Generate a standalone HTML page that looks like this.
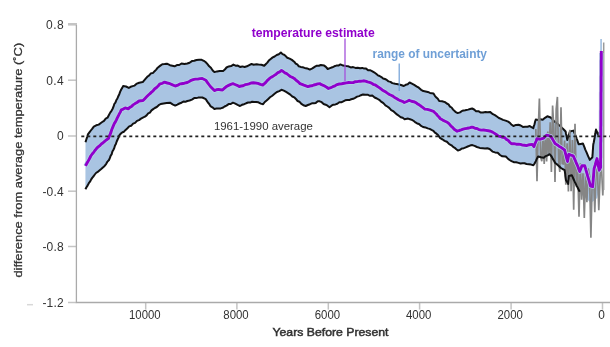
<!DOCTYPE html>
<html><head><meta charset="utf-8"><style>
html,body{margin:0;padding:0;background:#fff;width:610px;height:347px;overflow:hidden}
svg{display:block;will-change:transform}
text{font-family:"Liberation Sans",sans-serif}
</style></head><body>

<svg width="610" height="347" viewBox="0 0 610 347">
<g stroke="#c4c4c4" stroke-width="1.5" fill="none">
<path d="M68,24.3 H77" stroke-width="2.6"/>
<path d="M68,80.2 H76.3"/>
<path d="M68,136.0 H76.3"/>
<path d="M68,191.2 H76.3"/>
<path d="M68,246.5 H76.3"/>
<path d="M68,302.5 H76.3"/>
<path d="M145.7,302.5 V309.6"/>
<path d="M236.9,302.5 V309.6"/>
<path d="M328.3,302.5 V309.6"/>
<path d="M419.6,302.5 V309.6"/>
<path d="M511.1,302.5 V309.6"/>
<path d="M602.5,302.5 V309.6"/>
<path d="M76.4,25 V302.5 H610" stroke="#aaaaaa" stroke-width="1.3"/>
<path d="M27,304.7 H33" stroke="#d8d8d8"/>
</g>
<g font-family="Liberation Sans, sans-serif" font-size="12" fill="#333">
<text x="63.6" y="28.8" text-anchor="end" textLength="17.6" lengthAdjust="spacing">0.8</text>
<text x="63.6" y="84.5" text-anchor="end" textLength="17.4" lengthAdjust="spacing">0.4</text>
<text x="63.6" y="140.3" text-anchor="end" textLength="6.6" lengthAdjust="spacing">0</text>
<text x="63.6" y="195.5" text-anchor="end" textLength="21.2" lengthAdjust="spacing">-0.4</text>
<text x="63.6" y="250.8" text-anchor="end" textLength="21.2" lengthAdjust="spacing">-0.8</text>
<text x="63.6" y="306.8" text-anchor="end" textLength="21.2" lengthAdjust="spacing">-1.2</text>
<text x="144.8" y="319.4" text-anchor="middle" font-size="12.2" textLength="31.6" lengthAdjust="spacingAndGlyphs">10000</text>
<text x="236.0" y="319.4" text-anchor="middle" font-size="12.2" textLength="25.4" lengthAdjust="spacingAndGlyphs">8000</text>
<text x="327.4" y="319.4" text-anchor="middle" font-size="12.2" textLength="25.4" lengthAdjust="spacingAndGlyphs">6000</text>
<text x="418.7" y="319.4" text-anchor="middle" font-size="12.2" textLength="25.4" lengthAdjust="spacingAndGlyphs">4000</text>
<text x="510.2" y="319.4" text-anchor="middle" font-size="12.2" textLength="25.4" lengthAdjust="spacingAndGlyphs">2000</text>
<text x="601.6" y="319.4" text-anchor="middle" font-size="12.2" textLength="6.6" lengthAdjust="spacingAndGlyphs">0</text>
</g>
<path d="M85.5,142.3 L86.1,140.3 L86.7,138.4 L87.3,136.8 L87.9,134.4 L89.4,132.4 L90.8,130.5 L92.3,128.6 L93.8,126.6 L96.2,125.3 L98.7,124.6 L100.5,123.2 L102.2,122.0 L104.0,120.8 L105.7,118.6 L107.5,117.7 L108.8,115.2 L110.2,112.6 L111.5,110.8 L112.5,109.0 L113.5,106.7 L114.4,103.8 L115.4,102.7 L116.4,100.0 L117.4,98.5 L118.3,96.2 L119.3,94.2 L120.2,91.7 L121.2,89.5 L122.1,88.1 L123.1,86.1 L126.0,86.5 L128.8,87.9 L130.7,86.8 L132.7,86.1 L134.6,85.6 L136.9,83.6 L139.2,82.7 L142.7,82.1 L144.4,80.1 L146.1,78.1 L147.6,76.5 L149.2,75.4 L150.7,73.5 L153.1,72.9 L154.6,71.2 L156.2,69.6 L157.7,67.7 L160.0,65.9 L162.3,64.2 L164.6,64.1 L166.9,63.7 L170.0,65.2 L172.3,65.7 L174.6,66.3 L176.9,65.1 L179.2,65.0 L181.5,63.5 L184.4,64.0 L187.3,63.5 L189.6,62.7 L191.9,61.1 L194.2,60.8 L196.5,60.0 L199.1,59.7 L201.7,59.8 L203.8,60.8 L205.8,62.3 L207.5,64.1 L209.2,66.3 L210.9,67.8 L212.7,70.5 L214.4,72.1 L217.0,71.4 L219.6,71.0 L223.1,71.0 L224.8,69.6 L226.5,67.5 L228.8,66.4 L231.1,66.1 L233.4,64.6 L235.6,65.7 L237.8,65.6 L240.0,66.9 L242.3,66.4 L244.6,67.0 L246.9,66.3 L249.2,65.1 L251.5,64.0 L253.8,64.7 L256.2,64.3 L258.5,64.6 L261.4,64.7 L264.2,65.8 L265.7,64.2 L267.3,62.6 L268.8,60.6 L270.7,59.0 L272.7,57.4 L274.6,56.5 L276.7,55.0 L278.8,54.3 L280.9,52.5 L282.5,54.1 L284.1,54.7 L285.7,56.1 L287.3,57.7 L289.6,58.6 L291.9,59.9 L294.2,61.7 L295.7,63.6 L297.3,64.4 L298.8,66.3 L300.7,66.9 L302.7,67.3 L304.6,67.9 L307.2,68.4 L309.8,69.6 L312.4,68.4 L315.0,66.7 L316.9,65.7 L318.9,65.7 L320.8,65.0 L324.2,65.6 L325.9,66.9 L327.7,69.0 L330.0,68.1 L332.3,67.3 L334.3,66.3 L336.4,65.6 L338.4,65.6 L340.4,64.4 L343.2,65.6 L346.1,66.1 L348.4,66.3 L350.8,67.4 L353.1,67.1 L355.4,67.9 L357.7,67.8 L360.0,68.3 L362.3,67.9 L364.2,68.6 L366.1,68.6 L368.1,70.2 L370.0,70.2 L372.0,71.1 L374.1,72.3 L376.1,73.8 L377.9,75.3 L379.6,76.0 L381.4,77.1 L383.1,78.5 L384.9,79.0 L386.8,79.9 L388.6,81.4 L390.5,81.9 L392.3,83.1 L395.2,83.8 L398.1,84.2 L401.0,85.0 L403.8,86.0 L405.7,84.8 L407.7,84.2 L409.6,82.5 L411.9,83.6 L414.2,84.8 L416.5,86.3 L418.8,87.7 L421.1,89.8 L423.4,91.1 L425.6,91.4 L427.8,91.9 L430.0,92.9 L433.5,93.5 L434.9,95.8 L436.4,97.6 L437.8,98.8 L439.2,101.0 L442.1,101.2 L445.0,102.1 L446.8,103.5 L448.5,104.4 L450.0,106.6 L451.6,107.5 L453.1,109.6 L455.4,111.8 L457.7,113.1 L460.0,112.4 L462.3,110.8 L465.2,110.3 L468.1,109.6 L470.1,109.0 L472.1,108.5 L474.1,109.5 L476.1,111.3 L478.4,111.2 L480.8,112.6 L483.1,112.5 L485.4,112.0 L487.7,112.3 L490.0,111.9 L492.9,114.2 L494.9,115.1 L496.9,116.5 L498.9,118.0 L501.0,118.9 L503.0,119.9 L505.6,120.6 L508.2,121.7 L509.9,122.8 L511.7,124.8 L513.4,126.0 L516.0,124.9 L518.5,124.7 L520.7,125.5 L522.9,126.9 L525.2,126.7 L527.5,126.7 L529.8,126.0 L531.5,127.2 L533.3,128.2 L533.9,125.8 L534.5,124.3 L535.2,121.3 L535.8,119.5 L538.1,119.9 L540.4,119.3 L542.7,119.8 L545.0,117.8 L547.3,116.3 L550.7,117.5 L552.5,119.4 L554.2,121.5 L556.0,122.4 L557.8,123.9 L559.5,125.6 L561.3,127.1 L562.7,128.6 L564.2,130.0 L565.6,131.5 L566.0,133.7 L566.5,135.8 L566.9,137.9 L567.3,140.1 L567.9,137.9 L568.6,135.8 L569.2,133.7 L569.9,131.5 L573.4,130.6 L574.3,132.6 L575.1,134.6 L576.0,136.6 L576.6,138.5 L577.3,140.4 L578.0,142.4 L578.6,144.3 L580.8,143.9 L582.9,143.5 L583.7,145.4 L584.5,147.3 L585.2,149.3 L586.0,151.2 L587.0,153.4 L587.9,155.6 L588.8,157.7 L589.8,159.9 L592.4,157.3 L592.5,155.1 L592.7,153.0 L592.8,150.8 L593.0,148.6 L593.1,146.5 L593.3,144.3 L593.8,142.2 L594.2,140.0 L594.6,137.9 L594.9,135.8 L595.3,133.8 L595.6,131.7 L596.0,129.6 L597.2,132.3 L598.4,135.0 L599.8,132.0 L599.8,130.0 L599.8,128.0 L599.8,125.9 L599.8,123.9 L599.8,121.9 L599.9,119.9 L599.9,117.8 L599.9,115.8 L599.9,113.8 L599.9,111.8 L599.9,109.8 L599.9,107.7 L599.9,105.7 L599.9,103.7 L599.9,101.7 L599.9,99.7 L599.9,97.6 L600.0,95.6 L600.0,93.6 L600.0,91.6 L600.0,89.5 L600.0,87.5 L600.0,85.5 L600.0,83.5 L600.0,81.5 L600.0,79.4 L600.0,77.4 L600.0,75.4 L600.1,73.4 L600.1,71.3 L600.1,69.3 L600.1,67.3 L600.1,65.3 L600.1,63.3 L600.1,61.2 L600.1,59.2 L600.1,57.2 L600.1,55.2 L600.1,53.2 L600.1,51.1 L600.2,49.1 L600.2,47.1 L600.2,45.1 L600.2,43.0 L600.2,41.0 L600.2,39.0 L602.0,39.0 L601.5,170.0 L601.3,172.1 L601.1,174.3 L600.9,176.4 L600.6,178.6 L600.4,180.7 L600.2,182.9 L600.0,185.0 L599.5,187.2 L599.1,189.3 L598.6,191.5 L598.1,193.7 L597.7,195.8 L597.2,198.0 L595.2,199.7 L593.1,201.3 L591.1,203.0 L589.4,201.5 L587.7,200.0 L586.1,198.7 L584.6,197.3 L583.0,196.0 L581.4,193.9 L579.7,191.8 L578.7,189.7 L577.6,187.5 L576.6,185.6 L575.7,183.6 L574.7,181.7 L573.7,179.5 L572.8,177.4 L571.8,175.2 L568.9,176.0 L568.7,178.6 L568.4,181.3 L568.2,183.9 L567.1,182.1 L566.0,180.3 L565.7,178.3 L565.4,176.3 L565.2,174.2 L564.9,172.2 L564.6,170.2 L562.8,169.1 L561.0,168.0 L559.1,166.2 L557.1,164.4 L555.2,163.0 L554.0,160.7 L552.8,158.9 L551.6,156.5 L549.6,154.2 L547.7,155.4 L545.7,156.1 L543.8,157.7 L541.0,157.2 L538.1,156.5 L536.9,158.7 L535.8,161.1 L534.6,163.5 L533.4,165.2 L531.1,164.6 L528.8,164.2 L526.5,164.0 L524.5,163.3 L522.5,163.3 L520.5,163.5 L518.5,162.9 L516.2,162.3 L513.8,162.2 L511.5,161.1 L509.6,160.0 L507.7,158.4 L505.8,156.5 L502.3,156.3 L500.0,155.0 L497.7,152.8 L495.1,152.4 L492.5,151.6 L489.6,149.0 L487.3,148.2 L485.0,148.5 L482.7,148.2 L479.8,147.9 L476.9,147.0 L474.6,145.9 L472.3,145.1 L470.0,145.6 L467.7,146.5 L465.8,147.3 L463.8,148.2 L461.9,148.5 L459.9,149.9 L457.9,150.5 L456.3,149.3 L454.7,147.8 L453.1,146.9 L451.5,145.3 L449.2,144.1 L446.9,141.8 L444.6,140.9 L442.3,139.3 L440.0,137.8 L438.0,135.0 L436.5,133.7 L434.9,132.7 L433.4,130.8 L431.5,129.9 L429.6,128.9 L427.7,128.4 L425.4,127.4 L423.0,127.0 L420.7,125.6 L419.0,124.0 L417.2,123.5 L415.5,122.4 L413.8,121.0 L411.9,119.9 L410.0,119.2 L408.1,118.6 L404.6,119.2 L402.7,117.8 L400.7,117.2 L398.8,115.8 L396.9,114.4 L395.0,112.7 L393.1,111.1 L391.2,110.1 L389.2,107.8 L387.3,106.5 L385.4,105.4 L383.4,103.2 L381.5,101.9 L379.2,99.8 L376.9,98.5 L374.6,97.5 L372.3,95.6 L370.0,95.8 L367.6,94.7 L365.3,94.8 L363.0,94.4 L361.0,95.2 L359.1,96.1 L357.1,96.6 L355.1,97.8 L353.2,98.8 L351.2,99.3 L349.2,100.1 L347.2,100.1 L345.2,100.3 L343.3,101.3 L341.3,102.3 L339.3,102.3 L337.3,103.8 L335.4,104.4 L333.4,104.7 L331.5,105.7 L329.5,107.2 L327.5,105.7 L325.6,104.7 L323.6,104.0 L321.7,102.2 L319.7,101.3 L317.8,101.3 L315.8,102.9 L313.9,103.3 L311.9,103.3 L310.0,104.2 L307.9,105.0 L305.7,106.0 L303.4,105.3 L301.1,103.6 L299.4,101.7 L297.6,101.0 L295.9,98.9 L294.2,97.3 L292.3,96.5 L290.3,94.6 L288.4,93.3 L286.1,91.9 L283.8,90.6 L281.5,89.8 L279.2,91.1 L276.9,92.0 L274.6,93.8 L272.3,95.7 L270.0,97.3 L268.3,98.9 L266.6,100.5 L264.8,102.0 L263.1,104.2 L260.8,103.6 L258.4,102.3 L256.1,101.9 L254.1,102.1 L252.1,101.8 L250.1,102.6 L248.1,102.5 L246.1,103.3 L244.1,104.2 L242.0,104.8 L240.0,106.0 L237.6,104.9 L235.3,103.7 L232.9,102.7 L230.8,104.0 L228.6,104.1 L226.5,105.6 L224.6,106.5 L222.6,107.8 L220.7,108.4 L218.6,108.6 L216.5,108.6 L214.4,109.0 L212.4,107.3 L210.4,106.1 L209.2,104.0 L208.1,102.8 L207.0,101.1 L205.8,99.2 L202.3,97.5 L200.3,97.5 L198.2,97.6 L196.2,98.1 L194.2,98.1 L191.9,99.6 L189.6,100.5 L187.3,101.0 L185.4,101.8 L183.4,101.6 L181.5,102.7 L179.4,103.5 L177.3,104.6 L175.2,105.6 L172.6,104.3 L170.0,102.7 L166.6,103.0 L163.6,103.4 L160.7,104.0 L158.7,105.2 L156.8,107.0 L154.8,108.0 L153.2,109.1 L151.5,110.4 L149.9,112.6 L148.2,113.4 L146.6,115.4 L144.9,116.7 L142.9,117.6 L141.0,118.6 L139.0,120.1 L137.0,120.9 L135.1,122.9 L133.1,123.6 L131.1,125.8 L129.2,126.4 L127.2,128.5 L125.6,129.9 L124.0,131.7 L122.5,132.2 L120.9,133.5 L119.3,135.4 L118.4,137.9 L117.6,139.5 L116.7,141.5 L115.9,143.9 L115.0,145.4 L114.2,148.3 L113.3,150.0 L112.4,151.5 L111.6,154.4 L110.7,155.6 L109.9,157.9 L109.0,160.0 L107.5,161.6 L106.1,164.1 L104.6,165.9 L102.9,167.4 L101.2,168.9 L99.4,170.4 L97.7,171.9 L96.0,173.0 L94.8,174.5 L93.6,176.3 L92.4,177.6 L91.2,179.4 L90.0,181.7 L88.8,183.2 L87.7,185.4 L86.5,187.2 L85.4,189.2 Z" fill="#a9c4e2" stroke="none"/>
<path d="M85.5,142.3 L86.1,140.3 L86.7,138.4 L87.3,136.8 L87.9,134.4 L89.4,132.4 L90.8,130.5 L92.3,128.6 L93.8,126.6 L96.2,125.3 L98.7,124.6 L100.5,123.2 L102.2,122.0 L104.0,120.8 L105.7,118.6 L107.5,117.7 L108.8,115.2 L110.2,112.6 L111.5,110.8 L112.5,109.0 L113.5,106.7 L114.4,103.8 L115.4,102.7 L116.4,100.0 L117.4,98.5 L118.3,96.2 L119.3,94.2 L120.2,91.7 L121.2,89.5 L122.1,88.1 L123.1,86.1 L126.0,86.5 L128.8,87.9 L130.7,86.8 L132.7,86.1 L134.6,85.6 L136.9,83.6 L139.2,82.7 L142.7,82.1 L144.4,80.1 L146.1,78.1 L147.6,76.5 L149.2,75.4 L150.7,73.5 L153.1,72.9 L154.6,71.2 L156.2,69.6 L157.7,67.7 L160.0,65.9 L162.3,64.2 L164.6,64.1 L166.9,63.7 L170.0,65.2 L172.3,65.7 L174.6,66.3 L176.9,65.1 L179.2,65.0 L181.5,63.5 L184.4,64.0 L187.3,63.5 L189.6,62.7 L191.9,61.1 L194.2,60.8 L196.5,60.0 L199.1,59.7 L201.7,59.8 L203.8,60.8 L205.8,62.3 L207.5,64.1 L209.2,66.3 L210.9,67.8 L212.7,70.5 L214.4,72.1 L217.0,71.4 L219.6,71.0 L223.1,71.0 L224.8,69.6 L226.5,67.5 L228.8,66.4 L231.1,66.1 L233.4,64.6 L235.6,65.7 L237.8,65.6 L240.0,66.9 L242.3,66.4 L244.6,67.0 L246.9,66.3 L249.2,65.1 L251.5,64.0 L253.8,64.7 L256.2,64.3 L258.5,64.6 L261.4,64.7 L264.2,65.8 L265.7,64.2 L267.3,62.6 L268.8,60.6 L270.7,59.0 L272.7,57.4 L274.6,56.5 L276.7,55.0 L278.8,54.3 L280.9,52.5 L282.5,54.1 L284.1,54.7 L285.7,56.1 L287.3,57.7 L289.6,58.6 L291.9,59.9 L294.2,61.7 L295.7,63.6 L297.3,64.4 L298.8,66.3 L300.7,66.9 L302.7,67.3 L304.6,67.9 L307.2,68.4 L309.8,69.6 L312.4,68.4 L315.0,66.7 L316.9,65.7 L318.9,65.7 L320.8,65.0 L324.2,65.6 L325.9,66.9 L327.7,69.0 L330.0,68.1 L332.3,67.3 L334.3,66.3 L336.4,65.6 L338.4,65.6 L340.4,64.4 L343.2,65.6 L346.1,66.1 L348.4,66.3 L350.8,67.4 L353.1,67.1 L355.4,67.9 L357.7,67.8 L360.0,68.3 L362.3,67.9 L364.2,68.6 L366.1,68.6 L368.1,70.2 L370.0,70.2 L372.0,71.1 L374.1,72.3 L376.1,73.8 L377.9,75.3 L379.6,76.0 L381.4,77.1 L383.1,78.5 L384.9,79.0 L386.8,79.9 L388.6,81.4 L390.5,81.9 L392.3,83.1 L395.2,83.8 L398.1,84.2 L401.0,85.0 L403.8,86.0 L405.7,84.8 L407.7,84.2 L409.6,82.5 L411.9,83.6 L414.2,84.8 L416.5,86.3 L418.8,87.7 L421.1,89.8 L423.4,91.1 L425.6,91.4 L427.8,91.9 L430.0,92.9 L433.5,93.5 L434.9,95.8 L436.4,97.6 L437.8,98.8 L439.2,101.0 L442.1,101.2 L445.0,102.1 L446.8,103.5 L448.5,104.4 L450.0,106.6 L451.6,107.5 L453.1,109.6 L455.4,111.8 L457.7,113.1 L460.0,112.4 L462.3,110.8 L465.2,110.3 L468.1,109.6 L470.1,109.0 L472.1,108.5 L474.1,109.5 L476.1,111.3 L478.4,111.2 L480.8,112.6 L483.1,112.5 L485.4,112.0 L487.7,112.3 L490.0,111.9 L492.9,114.2 L494.9,115.1 L496.9,116.5 L498.9,118.0 L501.0,118.9 L503.0,119.9 L505.6,120.6 L508.2,121.7 L509.9,122.8 L511.7,124.8 L513.4,126.0 L516.0,124.9 L518.5,124.7 L520.7,125.5 L522.9,126.9 L525.2,126.7 L527.5,126.7 L529.8,126.0 L531.5,127.2 L533.3,128.2 L533.9,125.8 L534.5,124.3 L535.2,121.3 L535.8,119.5 L538.1,119.9 L540.4,119.3 L542.7,119.8 L545.0,117.8 L547.3,116.3 L550.7,117.5 L552.5,119.4 L554.2,121.5 L556.0,122.4 L557.8,123.9 L559.5,125.6 L561.3,127.1 L562.7,128.6 L564.2,130.0 L565.6,131.5 L566.0,133.7 L566.5,135.8 L566.9,137.9 L567.3,140.1 L567.9,137.9 L568.6,135.8 L569.2,133.7 L569.9,131.5 L573.4,130.6 L574.3,132.6 L575.1,134.6 L576.0,136.6 L576.6,138.5 L577.3,140.4 L578.0,142.4 L578.6,144.3 L580.8,143.9 L582.9,143.5 L583.7,145.4 L584.5,147.3 L585.2,149.3 L586.0,151.2 L587.0,153.4 L587.9,155.6 L588.8,157.7 L589.8,159.9 L592.4,157.3 L592.5,155.1 L592.7,153.0 L592.8,150.8 L593.0,148.6 L593.1,146.5 L593.3,144.3 L593.8,142.2 L594.2,140.0 L594.6,137.9 L594.9,135.8 L595.3,133.8 L595.6,131.7 L596.0,129.6 L597.2,132.3 L598.4,135.0 L599.8,132.0" fill="none" stroke="#111" stroke-width="2" stroke-linejoin="round"/>
<path d="M535.8,129.0 L537.0,181.3 L538.2,130.5 L539.4,98.6 L540.6,156.6 L541.8,161.3 L543.0,135.9 L544.2,163.9 L545.4,134.1 L546.6,161.4 L547.8,131.6 L549.0,153.6 L550.2,122.3 L551.4,172.0 L552.6,105.5 L553.8,128.0 L555.0,182.1 L556.2,109.1 L557.4,96.9 L558.6,161.3 L559.8,172.0 L561.0,107.3 L562.2,163.7 L563.4,164.0 L564.6,140.6 L565.8,184.7 L567.1,143.2 L568.4,191.5 L569.8,129.7 L571.1,191.2 L572.4,139.9 L573.7,209.7 L575.0,123.7 L576.4,186.7 L577.7,168.3 L579.0,216.7 L580.3,163.2 L581.6,199.8 L583.0,173.2 L584.3,218.0 L585.6,173.0 L586.9,202.2 L588.2,168.3 L589.6,176.3 L590.9,237.7 L592.2,181.3 L593.5,172.1 L594.8,212.3 L596.2,165.0 L597.5,172.5 L598.8,210.2 L600.1,176.0 L601.4,165.1 L602.8,195.4 L603.2,185.0" fill="none" stroke="#858585" stroke-width="1.7" stroke-linejoin="miter"/>
<path d="M85.4,189.2 L86.5,187.2 L87.7,185.4 L88.8,183.2 L90.0,181.7 L91.2,179.4 L92.4,177.6 L93.6,176.3 L94.8,174.5 L96.0,173.0 L97.7,171.9 L99.4,170.4 L101.2,168.9 L102.9,167.4 L104.6,165.9 L106.1,164.1 L107.5,161.6 L109.0,160.0 L109.9,157.9 L110.7,155.6 L111.6,154.4 L112.4,151.5 L113.3,150.0 L114.2,148.3 L115.0,145.4 L115.9,143.9 L116.7,141.5 L117.6,139.5 L118.4,137.9 L119.3,135.4 L120.9,133.5 L122.5,132.2 L124.0,131.7 L125.6,129.9 L127.2,128.5 L129.2,126.4 L131.1,125.8 L133.1,123.6 L135.1,122.9 L137.0,120.9 L139.0,120.1 L141.0,118.6 L142.9,117.6 L144.9,116.7 L146.6,115.4 L148.2,113.4 L149.9,112.6 L151.5,110.4 L153.2,109.1 L154.8,108.0 L156.8,107.0 L158.7,105.2 L160.7,104.0 L163.6,103.4 L166.6,103.0 L170.0,102.7 L172.6,104.3 L175.2,105.6 L177.3,104.6 L179.4,103.5 L181.5,102.7 L183.4,101.6 L185.4,101.8 L187.3,101.0 L189.6,100.5 L191.9,99.6 L194.2,98.1 L196.2,98.1 L198.2,97.6 L200.3,97.5 L202.3,97.5 L205.8,99.2 L207.0,101.1 L208.1,102.8 L209.2,104.0 L210.4,106.1 L212.4,107.3 L214.4,109.0 L216.5,108.6 L218.6,108.6 L220.7,108.4 L222.6,107.8 L224.6,106.5 L226.5,105.6 L228.6,104.1 L230.8,104.0 L232.9,102.7 L235.3,103.7 L237.6,104.9 L240.0,106.0 L242.0,104.8 L244.1,104.2 L246.1,103.3 L248.1,102.5 L250.1,102.6 L252.1,101.8 L254.1,102.1 L256.1,101.9 L258.4,102.3 L260.8,103.6 L263.1,104.2 L264.8,102.0 L266.6,100.5 L268.3,98.9 L270.0,97.3 L272.3,95.7 L274.6,93.8 L276.9,92.0 L279.2,91.1 L281.5,89.8 L283.8,90.6 L286.1,91.9 L288.4,93.3 L290.3,94.6 L292.3,96.5 L294.2,97.3 L295.9,98.9 L297.6,101.0 L299.4,101.7 L301.1,103.6 L303.4,105.3 L305.7,106.0 L307.9,105.0 L310.0,104.2 L311.9,103.3 L313.9,103.3 L315.8,102.9 L317.8,101.3 L319.7,101.3 L321.7,102.2 L323.6,104.0 L325.6,104.7 L327.5,105.7 L329.5,107.2 L331.5,105.7 L333.4,104.7 L335.4,104.4 L337.3,103.8 L339.3,102.3 L341.3,102.3 L343.3,101.3 L345.2,100.3 L347.2,100.1 L349.2,100.1 L351.2,99.3 L353.2,98.8 L355.1,97.8 L357.1,96.6 L359.1,96.1 L361.0,95.2 L363.0,94.4 L365.3,94.8 L367.6,94.7 L370.0,95.8 L372.3,95.6 L374.6,97.5 L376.9,98.5 L379.2,99.8 L381.5,101.9 L383.4,103.2 L385.4,105.4 L387.3,106.5 L389.2,107.8 L391.2,110.1 L393.1,111.1 L395.0,112.7 L396.9,114.4 L398.8,115.8 L400.7,117.2 L402.7,117.8 L404.6,119.2 L408.1,118.6 L410.0,119.2 L411.9,119.9 L413.8,121.0 L415.5,122.4 L417.2,123.5 L419.0,124.0 L420.7,125.6 L423.0,127.0 L425.4,127.4 L427.7,128.4 L429.6,128.9 L431.5,129.9 L433.4,130.8 L434.9,132.7 L436.5,133.7 L438.0,135.0 L440.0,137.8 L442.3,139.3 L444.6,140.9 L446.9,141.8 L449.2,144.1 L451.5,145.3 L453.1,146.9 L454.7,147.8 L456.3,149.3 L457.9,150.5 L459.9,149.9 L461.9,148.5 L463.8,148.2 L465.8,147.3 L467.7,146.5 L470.0,145.6 L472.3,145.1 L474.6,145.9 L476.9,147.0 L479.8,147.9 L482.7,148.2 L485.0,148.5 L487.3,148.2 L489.6,149.0 L492.5,151.6 L495.1,152.4 L497.7,152.8 L500.0,155.0 L502.3,156.3 L505.8,156.5 L507.7,158.4 L509.6,160.0 L511.5,161.1 L513.8,162.2 L516.2,162.3 L518.5,162.9 L520.5,163.5 L522.5,163.3 L524.5,163.3 L526.5,164.0 L528.8,164.2 L531.1,164.6 L533.4,165.2 L534.6,163.5 L535.8,161.1 L536.9,158.7 L538.1,156.5 L541.0,157.2 L543.8,157.7 L545.7,156.1 L547.7,155.4 L549.6,154.2 L551.6,156.5 L552.8,158.9 L554.0,160.7 L555.2,163.0 L557.1,164.4 L559.1,166.2 L561.0,168.0 L562.8,169.1 L564.6,170.2 L564.9,172.2 L565.2,174.2 L565.4,176.3 L565.7,178.3 L566.0,180.3 L567.1,182.1 L568.2,183.9 L568.4,181.3 L568.7,178.6 L568.9,176.0 L571.8,175.2 L572.8,177.4 L573.7,179.5 L574.7,181.7 L575.7,183.6 L576.6,185.6 L577.6,187.5 L578.7,189.7 L579.7,191.8" fill="none" stroke="#111" stroke-width="2" stroke-linejoin="round"/>
<path d="M603.7,190 V42.5" stroke="#9a9a9a" stroke-width="1.5" fill="none"/>
<path d="M85.5,165.9 L86.6,163.8 L87.6,162.1 L88.7,160.1 L89.7,158.2 L90.8,156.0 L92.2,154.0 L93.6,152.3 L94.9,150.5 L96.3,148.8 L97.7,147.2 L99.5,145.9 L101.3,144.0 L103.1,142.8 L104.9,141.1 L106.7,139.7 L108.5,138.4 L109.3,136.2 L110.1,134.4 L111.0,132.1 L111.8,129.5 L112.6,127.6 L113.4,125.6 L114.4,123.4 L115.4,121.9 L116.4,119.9 L117.3,117.9 L118.3,116.0 L119.3,113.9 L120.3,112.1 L121.3,109.8 L123.2,109.1 L125.2,107.9 L128.2,108.9 L129.8,107.4 L131.5,106.5 L133.1,104.9 L135.1,103.6 L137.0,102.5 L139.0,101.0 L141.0,100.8 L143.0,100.6 L144.8,98.7 L146.6,96.8 L148.4,95.0 L150.0,93.6 L151.5,92.1 L153.1,90.8 L154.8,88.8 L156.6,87.5 L158.3,85.8 L160.0,83.8 L162.3,83.3 L164.6,82.1 L167.3,83.0 L170.0,83.7 L172.6,84.9 L175.2,86.0 L177.3,85.4 L179.4,84.2 L181.5,83.7 L184.4,83.2 L187.3,82.5 L189.2,81.5 L191.2,80.3 L193.1,79.6 L195.4,79.1 L197.7,79.1 L200.0,78.6 L202.3,78.5 L205.8,80.2 L207.3,82.3 L208.9,84.5 L210.4,86.5 L212.4,88.5 L214.4,90.6 L216.4,89.7 L218.4,89.4 L220.4,89.7 L222.5,90.0 L224.5,88.1 L226.5,86.5 L228.6,85.4 L230.8,84.4 L232.9,83.7 L235.0,84.5 L237.1,85.3 L239.2,86.5 L241.2,86.0 L243.1,85.7 L245.1,84.7 L247.1,84.3 L249.0,83.9 L251.0,83.0 L253.3,82.8 L255.6,83.0 L257.9,83.4 L260.4,84.4 L262.8,85.0 L264.4,83.7 L266.0,82.1 L267.5,80.3 L269.1,78.9 L270.7,77.5 L272.5,76.6 L274.3,75.4 L276.1,74.2 L277.9,72.6 L279.7,71.8 L281.5,70.4 L283.2,71.5 L284.9,72.9 L286.7,73.6 L288.4,75.0 L290.3,76.5 L292.3,77.3 L294.2,78.4 L296.1,80.3 L298.1,81.7 L300.0,83.6 L302.0,84.4 L303.9,85.2 L305.9,85.9 L307.9,86.6 L309.9,86.0 L311.8,85.8 L313.8,85.0 L315.8,84.5 L317.7,83.9 L319.7,83.6 L321.5,84.7 L323.2,85.3 L325.0,86.3 L326.7,87.2 L328.5,88.5 L330.7,87.7 L332.8,86.7 L335.0,85.8 L337.1,84.6 L339.3,84.0 L341.7,83.7 L344.1,83.3 L346.4,82.9 L348.8,82.5 L351.2,82.6 L353.2,82.6 L355.3,81.7 L357.4,81.6 L359.4,81.2 L361.4,81.2 L363.5,80.8 L365.5,81.1 L367.5,81.9 L369.5,82.4 L371.5,83.1 L373.2,84.3 L375.0,84.8 L376.8,86.0 L378.5,87.1 L380.3,88.4 L382.2,89.9 L384.0,90.9 L385.9,92.1 L387.7,93.4 L389.4,94.5 L391.1,95.3 L392.9,96.1 L394.6,97.5 L396.5,98.5 L398.5,99.8 L400.4,100.7 L402.4,101.3 L404.3,102.5 L406.8,101.5 L409.2,100.3 L411.4,101.3 L413.7,101.7 L415.9,102.6 L417.7,104.0 L419.5,105.1 L421.2,106.3 L423.0,107.7 L424.8,109.1 L427.4,109.4 L430.0,110.2 L433.5,111.3 L434.9,112.7 L436.3,114.0 L437.6,115.7 L439.0,117.0 L440.4,118.8 L442.7,120.1 L445.0,121.2 L447.3,122.3 L449.0,123.7 L450.8,125.9 L452.5,127.3 L454.2,129.2 L457.2,131.2 L459.2,130.5 L461.1,129.9 L463.1,129.2 L465.1,128.7 L467.1,128.3 L469.0,128.0 L471.0,127.3 L473.0,127.2 L475.0,128.3 L476.9,128.5 L478.9,129.6 L481.3,130.1 L483.6,130.0 L486.0,130.4 L488.3,130.8 L490.7,131.2 L492.6,132.1 L494.6,133.4 L496.6,134.8 L498.5,136.1 L500.5,136.5 L502.6,137.3 L504.6,137.5 L506.3,139.4 L508.1,140.3 L509.8,142.2 L511.5,143.8 L513.8,143.6 L516.2,144.2 L518.5,144.1 L520.5,144.4 L522.5,145.1 L524.5,145.3 L526.5,145.6 L529.4,144.7 L532.3,144.4 L534.0,146.7 L534.7,144.4 L535.5,142.5 L536.2,141.0 L536.9,138.7 L540.4,139.2 L543.8,138.1 L545.2,136.4 L546.7,135.2 L548.7,135.7 L550.7,136.3 L551.9,138.1 L553.0,139.9 L554.2,142.1 L555.4,143.8 L557.4,144.9 L559.3,146.5 L561.3,147.6 L563.0,148.8 L564.6,150.0 L565.2,152.3 L565.8,154.6 L566.3,156.9 L566.9,159.2 L567.5,161.5 L568.0,159.1 L568.4,156.7 L568.9,154.3 L571.0,155.1 L573.2,155.8 L574.1,157.8 L575.0,159.8 L575.8,161.8 L576.7,163.8 L577.6,165.8 L578.3,167.7 L579.0,169.7 L579.7,171.6 L580.4,169.7 L581.2,167.7 L581.9,165.8 L584.8,165.8 L585.4,167.8 L585.9,169.8 L586.5,171.9 L587.1,173.9 L587.6,175.9 L588.2,177.9 L588.8,179.9 L589.4,182.0 L589.9,184.0 L590.5,186.0 L592.7,186.7 L592.9,184.7 L593.0,182.7 L593.2,180.7 L593.3,178.7 L593.5,176.7 L593.6,174.7 L593.8,172.7 L593.9,170.7 L594.1,168.7 L594.7,166.7 L595.3,164.7 L595.8,162.6 L596.4,160.6 L597.0,158.6 L597.4,160.9 L597.9,163.2 L598.3,165.6 L598.8,167.9 L599.2,170.2 L600.6,167.3 L600.6,165.3 L600.6,163.3 L600.6,161.3 L600.6,159.3 L600.7,157.3 L600.7,155.3 L600.7,153.3 L600.7,151.3 L600.7,149.3 L600.7,147.2 L600.7,145.2 L600.7,143.2 L600.8,141.2 L600.8,139.2 L600.8,137.2 L600.8,135.2 L600.8,133.2 L600.8,131.2 L600.8,129.2 L600.8,127.2 L600.9,125.2 L600.9,123.2 L600.9,121.2 L600.9,119.2 L600.9,117.2 L600.9,115.2 L600.9,113.2 L600.9,111.2 L601.0,109.2 L601.0,107.1 L601.0,105.1 L601.0,103.1 L601.0,101.1 L601.0,99.1 L601.0,97.1 L601.0,95.1 L601.0,93.1 L601.1,91.1 L601.1,89.1 L601.1,87.1 L601.1,85.1 L601.1,83.1 L601.1,81.1 L601.1,79.1 L601.1,77.1 L601.2,75.1 L601.2,73.1 L601.2,71.1 L601.2,69.0 L601.2,67.0 L601.2,65.0 L601.2,63.0 L601.2,61.0 L601.3,59.0 L601.3,57.0 L601.3,55.0 L601.3,53.0" fill="none" stroke="#b4d8e6" stroke-width="4.3" stroke-linejoin="round"/>
<path d="M85.5,165.9 L86.6,163.8 L87.6,162.1 L88.7,160.1 L89.7,158.2 L90.8,156.0 L92.2,154.0 L93.6,152.3 L94.9,150.5 L96.3,148.8 L97.7,147.2 L99.5,145.9 L101.3,144.0 L103.1,142.8 L104.9,141.1 L106.7,139.7 L108.5,138.4 L109.3,136.2 L110.1,134.4 L111.0,132.1 L111.8,129.5 L112.6,127.6 L113.4,125.6 L114.4,123.4 L115.4,121.9 L116.4,119.9 L117.3,117.9 L118.3,116.0 L119.3,113.9 L120.3,112.1 L121.3,109.8 L123.2,109.1 L125.2,107.9 L128.2,108.9 L129.8,107.4 L131.5,106.5 L133.1,104.9 L135.1,103.6 L137.0,102.5 L139.0,101.0 L141.0,100.8 L143.0,100.6 L144.8,98.7 L146.6,96.8 L148.4,95.0 L150.0,93.6 L151.5,92.1 L153.1,90.8 L154.8,88.8 L156.6,87.5 L158.3,85.8 L160.0,83.8 L162.3,83.3 L164.6,82.1 L167.3,83.0 L170.0,83.7 L172.6,84.9 L175.2,86.0 L177.3,85.4 L179.4,84.2 L181.5,83.7 L184.4,83.2 L187.3,82.5 L189.2,81.5 L191.2,80.3 L193.1,79.6 L195.4,79.1 L197.7,79.1 L200.0,78.6 L202.3,78.5 L205.8,80.2 L207.3,82.3 L208.9,84.5 L210.4,86.5 L212.4,88.5 L214.4,90.6 L216.4,89.7 L218.4,89.4 L220.4,89.7 L222.5,90.0 L224.5,88.1 L226.5,86.5 L228.6,85.4 L230.8,84.4 L232.9,83.7 L235.0,84.5 L237.1,85.3 L239.2,86.5 L241.2,86.0 L243.1,85.7 L245.1,84.7 L247.1,84.3 L249.0,83.9 L251.0,83.0 L253.3,82.8 L255.6,83.0 L257.9,83.4 L260.4,84.4 L262.8,85.0 L264.4,83.7 L266.0,82.1 L267.5,80.3 L269.1,78.9 L270.7,77.5 L272.5,76.6 L274.3,75.4 L276.1,74.2 L277.9,72.6 L279.7,71.8 L281.5,70.4 L283.2,71.5 L284.9,72.9 L286.7,73.6 L288.4,75.0 L290.3,76.5 L292.3,77.3 L294.2,78.4 L296.1,80.3 L298.1,81.7 L300.0,83.6 L302.0,84.4 L303.9,85.2 L305.9,85.9 L307.9,86.6 L309.9,86.0 L311.8,85.8 L313.8,85.0 L315.8,84.5 L317.7,83.9 L319.7,83.6 L321.5,84.7 L323.2,85.3 L325.0,86.3 L326.7,87.2 L328.5,88.5 L330.7,87.7 L332.8,86.7 L335.0,85.8 L337.1,84.6 L339.3,84.0 L341.7,83.7 L344.1,83.3 L346.4,82.9 L348.8,82.5 L351.2,82.6 L353.2,82.6 L355.3,81.7 L357.4,81.6 L359.4,81.2 L361.4,81.2 L363.5,80.8 L365.5,81.1 L367.5,81.9 L369.5,82.4 L371.5,83.1 L373.2,84.3 L375.0,84.8 L376.8,86.0 L378.5,87.1 L380.3,88.4 L382.2,89.9 L384.0,90.9 L385.9,92.1 L387.7,93.4 L389.4,94.5 L391.1,95.3 L392.9,96.1 L394.6,97.5 L396.5,98.5 L398.5,99.8 L400.4,100.7 L402.4,101.3 L404.3,102.5 L406.8,101.5 L409.2,100.3 L411.4,101.3 L413.7,101.7 L415.9,102.6 L417.7,104.0 L419.5,105.1 L421.2,106.3 L423.0,107.7 L424.8,109.1 L427.4,109.4 L430.0,110.2 L433.5,111.3 L434.9,112.7 L436.3,114.0 L437.6,115.7 L439.0,117.0 L440.4,118.8 L442.7,120.1 L445.0,121.2 L447.3,122.3 L449.0,123.7 L450.8,125.9 L452.5,127.3 L454.2,129.2 L457.2,131.2 L459.2,130.5 L461.1,129.9 L463.1,129.2 L465.1,128.7 L467.1,128.3 L469.0,128.0 L471.0,127.3 L473.0,127.2 L475.0,128.3 L476.9,128.5 L478.9,129.6 L481.3,130.1 L483.6,130.0 L486.0,130.4 L488.3,130.8 L490.7,131.2 L492.6,132.1 L494.6,133.4 L496.6,134.8 L498.5,136.1 L500.5,136.5 L502.6,137.3 L504.6,137.5 L506.3,139.4 L508.1,140.3 L509.8,142.2 L511.5,143.8 L513.8,143.6 L516.2,144.2 L518.5,144.1 L520.5,144.4 L522.5,145.1 L524.5,145.3 L526.5,145.6 L529.4,144.7 L532.3,144.4 L534.0,146.7 L534.7,144.4 L535.5,142.5 L536.2,141.0 L536.9,138.7 L540.4,139.2 L543.8,138.1 L545.2,136.4 L546.7,135.2 L548.7,135.7 L550.7,136.3 L551.9,138.1 L553.0,139.9 L554.2,142.1 L555.4,143.8 L557.4,144.9 L559.3,146.5 L561.3,147.6 L563.0,148.8 L564.6,150.0 L565.2,152.3 L565.8,154.6 L566.3,156.9 L566.9,159.2 L567.5,161.5 L568.0,159.1 L568.4,156.7 L568.9,154.3 L571.0,155.1 L573.2,155.8 L574.1,157.8 L575.0,159.8 L575.8,161.8 L576.7,163.8 L577.6,165.8 L578.3,167.7 L579.0,169.7 L579.7,171.6 L580.4,169.7 L581.2,167.7 L581.9,165.8 L584.8,165.8 L585.4,167.8 L585.9,169.8 L586.5,171.9 L587.1,173.9 L587.6,175.9 L588.2,177.9 L588.8,179.9 L589.4,182.0 L589.9,184.0 L590.5,186.0 L592.7,186.7 L592.9,184.7 L593.0,182.7 L593.2,180.7 L593.3,178.7 L593.5,176.7 L593.6,174.7 L593.8,172.7 L593.9,170.7 L594.1,168.7 L594.7,166.7 L595.3,164.7 L595.8,162.6 L596.4,160.6 L597.0,158.6 L597.4,160.9 L597.9,163.2 L598.3,165.6 L598.8,167.9 L599.2,170.2 L600.6,167.3 L600.6,165.3 L600.6,163.3 L600.6,161.3 L600.6,159.3 L600.7,157.3 L600.7,155.3 L600.7,153.3 L600.7,151.3 L600.7,149.3 L600.7,147.2 L600.7,145.2 L600.7,143.2 L600.8,141.2 L600.8,139.2 L600.8,137.2 L600.8,135.2 L600.8,133.2 L600.8,131.2 L600.8,129.2 L600.8,127.2 L600.9,125.2 L600.9,123.2 L600.9,121.2 L600.9,119.2 L600.9,117.2 L600.9,115.2 L600.9,113.2 L600.9,111.2 L601.0,109.2 L601.0,107.1 L601.0,105.1 L601.0,103.1 L601.0,101.1 L601.0,99.1 L601.0,97.1 L601.0,95.1 L601.0,93.1 L601.1,91.1 L601.1,89.1 L601.1,87.1 L601.1,85.1 L601.1,83.1 L601.1,81.1 L601.1,79.1 L601.1,77.1 L601.2,75.1 L601.2,73.1 L601.2,71.1 L601.2,69.0 L601.2,67.0 L601.2,65.0 L601.2,63.0 L601.2,61.0 L601.3,59.0 L601.3,57.0 L601.3,55.0 L601.3,53.0 L601.3,51.0" fill="none" stroke="#9000cc" stroke-width="2.9" stroke-linejoin="round"/>
<path d="M81.3,136.4 H610" stroke="#222" stroke-width="1.8" stroke-dasharray="3,3" fill="none"/>
<path d="M345,38.5 V81" stroke="#a452da" stroke-width="1.3"/>
<path d="M399.2,63.5 V91" stroke="#6f9fd6" stroke-width="1.2"/>
<text x="251.7" y="36.7" font-family="Liberation Sans, sans-serif" font-weight="bold" font-size="12" fill="#9000cc" textLength="123" lengthAdjust="spacingAndGlyphs">temperature estimate</text>
<text x="372.5" y="57.5" font-family="Liberation Sans, sans-serif" font-weight="bold" font-size="12" fill="#6f9fd6" textLength="114.5" lengthAdjust="spacingAndGlyphs">range of uncertainty</text>
<text x="213.9" y="129.6" font-family="Liberation Sans, sans-serif" font-size="11.5" fill="#333" textLength="99" lengthAdjust="spacingAndGlyphs">1961-1990 average</text>
<text x="272.5" y="335.9" font-family="Liberation Sans, sans-serif" font-size="11.6" fill="#333" stroke="#333" stroke-width="0.5" textLength="116" lengthAdjust="spacingAndGlyphs">Years Before Present</text>
<text transform="translate(21.7,277.6) rotate(-90)" x="0" y="0" font-family="Liberation Sans, sans-serif" font-size="11.6" fill="#333" stroke="#333" stroke-width="0.3" textLength="234.8" lengthAdjust="spacingAndGlyphs">difference from average temperature (˚C)</text>
</svg>
</body></html>
